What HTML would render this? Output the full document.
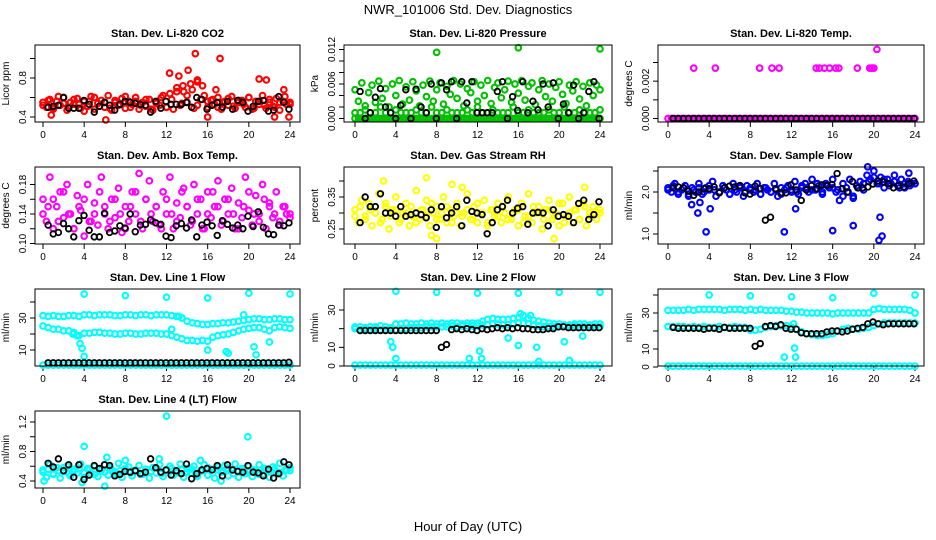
<!DOCTYPE html>
<html><head><meta charset="utf-8"><style>
html,body{margin:0;padding:0;background:#fff;}
svg{display:block;font-family:"Liberation Sans",Arial,sans-serif;}
</style></head><body>
<svg id="chart" width="936" height="540" viewBox="0 0 936 540">
<text x="468" y="14" text-anchor="middle" font-size="13">NWR_101006  Std. Dev. Diagnostics</text>
<text x="468" y="531" text-anchor="middle" font-size="13">Hour of Day (UTC)</text>
</svg>
<script>
// ---------- data ----------
const xTicks=[0,4,8,12,16,20,24];
const co2Main=[0.55,0.50,0.58,0.48,0.56,0.52,0.60,0.47,0.55,0.53,0.59,0.49,0.56,0.51,0.61,0.48,0.54,0.57,0.50,0.62,0.47,0.55,0.52,0.59,0.49,0.56,0.53,0.60,0.48,0.55,0.51,0.58,0.47,0.56,0.52,0.62,0.50,0.64,0.48,0.70,0.52,0.66,0.55,0.74,0.49,0.76,0.58,0.62,0.50,0.57,0.53,0.60,0.48,0.56,0.52,0.61,0.49,0.55,0.57,0.50,0.60,0.48,0.56,0.53,0.62,0.49,0.55,0.51,0.59,0.47,0.56,0.53,0.55];
const co2Alt=[0.52,0.57,0.49,0.61,0.54,0.50,0.58,0.53,0.46,0.56,0.60,0.51,0.55,0.49,0.57,0.53,0.61,0.50,0.56,0.52,0.58,0.48,0.54,0.60,0.50,0.58,0.66,0.54,0.62,0.68,0.52,0.72,0.56,0.58,0.50,0.55,0.59,0.51,0.57,0.53,0.60,0.49,0.56,0.52,0.58,0.50,0.55,0.61,0.53];
const co2OutT=[14.8,17.2,14.1,12.3,13.2,21.0,21.7,6.1,23.9,16.0,22.5,0.8,23.4,13.6,15.0,16.8];
const co2OutV=[1.05,1.00,0.88,0.85,0.82,0.79,0.78,0.37,0.40,0.40,0.40,0.42,0.68,0.72,0.78,0.68];
const co2Black=[0.50,0.51,0.52,0.60,0.49,0.49,0.49,0.57,0.53,0.45,0.51,0.55,0.52,0.47,0.53,0.56,0.55,0.54,0.53,0.52,0.45,0.56,0.49,0.56,0.53,0.53,0.53,0.55,0.50,0.60,0.58,0.48,0.52,0.55,0.50,0.56,0.48,0.57,0.55,0.46,0.51,0.56,0.57,0.46,0.47,0.61,0.55,0.48];
const presZero=[0,0,0,0,0,0,0,0,0,0,0,0,0,0,0,0,0,0,0,0,0,0,0,0,0,0,0,0,0,0,0,0,0,0,0,0,0,0,0,0,0,0,0,0,0,0,0,0,0,0,0,0,0,0,0,0,0,0,0,0,0,0,0,0,0,0,0,0,0,0,0,0,0];
const presLow=[0.0010,0.0010,0.0015,0.0010,0.0010,0.0020,0.0010,0.0010,0.0015,0.0010,0.0010,0.0010,0.0015,0.0010,0.0010,0.0020,0.0010,0.0010,0.0015,0.0010,0.0010,0.0010,0.0015,0.0010,0.0020,0.0010,0.0010,0.0015,0.0010,0.0010,0.0010,0.0020,0.0010,0.0010,0.0015,0.0010,0.0010,0.0010,0.0015,0.0010,0.0010,0.0020,0.0010,0.0010,0.0015,0.0010,0.0010,0.0010,0.0015];
const presScatter=[0.0050,0.0030,0.0062,0.0022,0.0045,0.0058,0.0028,0.0065,0.0035,0.0052,0.0020,0.0060,0.0040,0.0066,0.0025,0.0055,0.0032,0.0064,0.0048,0.0022,0.0058,0.0038,0.0065,0.0030,0.0050,0.0062,0.0025,0.0056,0.0042,0.0066,0.0035,0.0060,0.0022,0.0052,0.0045,0.0064,0.0030,0.0058,0.0040,0.0066,0.0026,0.0054,0.0062,0.0036,0.0050,0.0065,0.0028,0.0060,0.0044,0.0066,0.0032,0.0056,0.0062,0.0024,0.0050,0.0066,0.0038,0.0060,0.0030,0.0054,0.0064,0.0042,0.0026,0.0058,0.0048,0.0064,0.0034,0.0056,0.0022,0.0062,0.0040,0.0058,0.0050];
const presOutT=[8.0,16.0,24.0];
const presOutV=[0.0115,0.0123,0.0121];
const presBlack=[0.0047,0,0.0010,0.0037,0.0052,0.0020,0.0010,0,0.0023,0.0050,0,0.0051,0.0020,0.0010,0.0060,0,0.0062,0.0050,0.0064,0,0.0064,0.0027,0.0064,0.0010,0.0010,0.0010,0.0010,0.0047,0.0064,0,0.0038,0.0014,0.0064,0.0010,0.0030,0.0015,0.0060,0.0020,0.0062,0,0.0025,0.0010,0.0058,0,0.0010,0.0047,0.0064,0];
const tempZero=[0,0,0,0,0,0,0,0,0,0,0,0,0,0,0,0,0,0,0,0,0,0,0,0,0,0,0,0,0,0,0,0,0,0,0,0,0,0,0,0,0,0,0,0,0,0,0,0,0,0,0,0,0,0,0,0,0,0,0,0,0,0,0,0,0,0,0,0,0,0,0,0,0];
const tempOutT=[2.5,4.6,8.9,10.1,10.8,14.4,14.7,15.2,15.7,16.3,16.6,18.4,19.6,19.8,20.0,20.3];
const tempOutV=[0.0027,0.0027,0.0027,0.0027,0.0027,0.0027,0.0027,0.0027,0.0027,0.0027,0.0027,0.0027,0.0027,0.0027,0.0027,0.0037];
const tempBlack=[0,0,0,0,0,0,0,0,0,0,0,0,0,0,0,0,0,0,0,0,0,0,0,0,0,0,0,0,0,0,0,0,0,0,0,0,0,0,0,0,0,0,0,0,0,0,0,0];
const boxMain=[0.16,0.13,0.19,0.12,0.15,0.17,0.135,0.18,0.14,0.12,0.165,0.145,0.11,0.18,0.13,0.155,0.125,0.19,0.14,0.12,0.16,0.135,0.175,0.115,0.15,0.13,0.17,0.14,0.195,0.12,0.16,0.185,0.13,0.15,0.125,0.17,0.14,0.19,0.12,0.155,0.135,0.175,0.15,0.125,0.18,0.14,0.16,0.12,0.17,0.135,0.15,0.185,0.125,0.16,0.14,0.175,0.12,0.155,0.135,0.19,0.145,0.125,0.165,0.14,0.18,0.12,0.155,0.135,0.17,0.125,0.15,0.14,0.135];
const boxAlt=[0.14,0.15,0.16,0.13,0.17,0.14,0.12,0.15,0.16,0.13,0.14,0.17,0.15,0.13,0.16,0.14,0.12,0.15,0.17,0.13,0.16,0.14,0.15,0.12,0.16,0.14,0.13,0.17,0.15,0.13,0.16,0.12,0.14,0.17,0.15,0.13,0.16,0.14,0.12,0.15,0.17,0.14,0.13,0.16,0.15,0.14,0.13,0.15,0.14];
const boxBlack=[0.125,0.113,0.115,0.127,0.12,0.109,0.131,0.138,0.118,0.109,0.109,0.141,0.115,0.117,0.124,0.121,0.14,0.116,0.125,0.126,0.132,0.128,0.126,0.11,0.108,0.124,0.127,0.121,0.132,0.109,0.125,0.129,0.124,0.111,0.131,0.126,0.121,0.125,0.12,0.137,0.123,0.143,0.122,0.113,0.112,0.125,0.124,0.128];
const rhMain=[0.31,0.27,0.34,0.29,0.33,0.26,0.30,0.36,0.28,0.32,0.25,0.31,0.35,0.27,0.30,0.33,0.26,0.29,0.37,0.28,0.31,0.34,0.26,0.30,0.32,0.28,0.35,0.27,0.31,0.29,0.33,0.26,0.30,0.36,0.28,0.32,0.27,0.30,0.34,0.26,0.31,0.29,0.33,0.27,0.30,0.35,0.28,0.31,0.26,0.33,0.29,0.36,0.27,0.30,0.32,0.25,0.31,0.34,0.28,0.30,0.26,0.33,0.29,0.35,0.27,0.31,0.28,0.33,0.26,0.30,0.32,0.28,0.30];
const rhAlt=[0.29,0.32,0.28,0.31,0.30,0.27,0.33,0.29,0.31,0.28,0.30,0.32,0.27,0.31,0.29,0.33,0.28,0.30,0.32,0.27,0.30,0.29,0.31,0.28,0.33,0.30,0.27,0.31,0.29,0.32,0.28,0.30,0.31,0.27,0.29,0.32,0.30,0.28,0.31,0.29,0.33,0.27,0.30,0.31,0.28,0.32,0.29,0.30,0.31];
const rhOutT=[2.8,7.0,8.0,7.5,9.5,19.5,22.5,10.5];
const rhOutV=[0.40,0.41,0.22,0.23,0.39,0.22,0.38,0.38];
const rhBlack=[0.27,0.35,0.32,0.32,0.36,0.3,0.3,0.29,0.32,0.29,0.295,0.3,0.295,0.285,0.31,0.255,0.32,0.285,0.3,0.32,0.26,0.34,0.305,0.3,0.295,0.235,0.27,0.31,0.32,0.34,0.3,0.315,0.32,0.265,0.3,0.302,0.3,0.26,0.31,0.29,0.295,0.29,0.27,0.33,0.34,0.28,0.295,0.335];
const flowMain=[2.1,2.0,2.2,1.95,2.05,2.15,1.9,2.1,2.0,2.2,1.95,2.1,2.05,2.25,1.9,2.0,2.15,2.05,1.95,2.2,2.0,2.1,1.9,2.15,2.05,2.0,2.2,1.95,2.1,2.05,2.0,2.2,1.9,2.1,2.05,2.15,2.0,2.25,1.95,2.1,2.2,2.0,2.3,2.05,2.15,1.95,2.2,2.1,2.3,2.0,1.8,2.2,2.1,2.3,1.9,2.15,2.25,2.05,2.4,2.3,2.5,2.2,2.35,2.1,2.3,2.2,2.4,2.15,2.3,2.1,2.25,2.2,2.2];
const flowAlt=[2.05,2.15,2.0,2.1,1.95,2.05,2.1,2.0,2.15,2.05,2.0,2.1,1.95,2.05,2.15,2.0,2.1,2.05,1.95,2.1,2.0,2.05,1.95,2.1,2.05,2.0,2.15,2.1,2.05,2.2,2.0,2.15,2.1,2.05,1.9,2.0,1.85,2.1,2.2,2.25,2.35,2.2,2.3,2.15,2.25,2.1,2.2,2.15,2.2];
const flowOutT=[3.7,4.1,2.9,3.1,2.3,11.3,12.4,16.0,18.0,20.6,20.8,20.5,19.4,23.4];
const flowOutV=[1.05,1.6,1.5,1.75,1.7,1.05,1.6,1.08,1.2,1.4,0.95,0.85,2.6,2.45];
const flowBlack=[2.1,2.12,2.1,2.02,1.92,2.0,2.08,2.08,2.12,1.98,2.1,2.14,2.12,2.15,1.98,1.95,2.14,2.08,1.33,1.4,2.08,1.98,1.98,2.17,2.05,1.8,2.05,2.15,2.08,2.17,2.16,2.18,2.44,2.08,2.0,2.25,2.1,2.1,2.12,2.19,2.26,2.24,2.2,2.1,2.15,2.12,2.2,2.26];
const l1Upper=[31.5,31,31.5,31,31,31.5,31.5,31,32,32,31.5,32,32,32,31.5,31.5,32,32,31.5,32,32,31.5,32,32,32,31.5,31,30,28,27,26.5,26,26,26.5,26.5,27,27,27.5,28,28.5,29,29.5,29.5,29,29,29.5,29.5,29,29];
const l1Lower=[25,24,23,23,22,22,21,19,20.5,20.5,21,21,20.5,20.5,20,20,20.5,20.5,20,20,20.5,20.5,20.5,20,20,19,18,17,16,16,15.5,16,15.5,18,19,19.5,20,21,22,23,23.5,24,24,23,22,24,24.5,24,23.5];
const l1Bottom=[0.5,0.5,0.5,0.5,0.5,0.5,0.5,0.5,0.5,0.5,0.5,0.5,0.5,0.5,0.5,0.5,0.5,0.5,0.5,0.5,0.5,0.5,0.5,0.5,0.5,0.5,0.5,0.5,0.5,0.5,0.5,0.5,0.5,0.5,0.5,0.5,0.5,0.5,0.5,0.5,0.5,0.5,0.5,0.5,0.5,0.5,0.5,0.5,0.5];
const l1OutT=[4,8,12,16,20,24,3.3,3.6,3.8,4.0,16.0,17.8,18.0,20.5,20.7,22.0,19.5,13.2,12.5,2.9];
const l1OutV=[45,44,43,42.5,45.5,45,19,14,11,6,10,9,8,12,7,15,32,31,23,20];
const l1Black=[2,2,2,2,2,2,2,2,2,2,2,2,2,2,2,2,2,2,2,2,2,2,2,2,2,2,2,2,2,2,2,2,2,2,2,2,2,2,2,2,2,2,2,2,2,2,2,2.3];
const l2Band=[21,21,20.5,21,21,21.5,21,20.5,22.5,22.5,23,22.5,22.5,23,22.5,23,22.5,23,22.5,23,23,22.5,23,23,23,24,25,25.5,25,25,25,25.5,26,27,25.5,24.5,24,23.5,23,22.5,22.5,22,22,22.5,22.5,22.5,22,22.5,22.5];
const l2Band2=[20,19.5,20,19.5,20,19.5,19.5,19.5,19.5,20,20,20.5,20.5,20.5,21,21,21,21,21,21.5,21,21.5,21.5,21.5,21.5,22,22,22.5,22.5,22,22,22.5,23,23,22.5,22,21.5,21,21,21,21,21.5,21.5,21.5,21,21,21,21,21];
const l2Bottom=[0.5,0.5,0.5,0.5,0.5,0.5,0.5,0.5,0.5,0.5,0.5,0.5,0.5,0.5,0.5,0.5,0.5,0.5,0.5,0.5,0.5,0.5,0.5,0.5,0.5,0.5,0.5,0.5,0.5,0.5,0.5,0.5,0.5,0.5,0.5,0.5,0.5,0.5,0.5,0.5,0.5,0.5,0.5,0.5,0.5,0.5,0.5,0.5,0.5];
const l2OutT=[4,8,12,16,20,24,3.5,3.7,4.0,11.2,12.2,12.4,15,16,17.8,18,20.5,21,22.3,16.2,17.2];
const l2OutV=[40,39.5,39,39,39.5,39.5,13,10,4,4,8,4,15,11,10,2.5,13,3,16,28,27];
const l2Black=[19,19,19,19,19,19,19,19,19,19,19,19,19,19,19,19,10,11.5,19.5,20,19.5,20,19.5,19,20,19.5,20,20.5,20,20.5,20,20.5,20,20,19.5,19.5,19.5,20,20,21,21,20.5,20.5,20.5,20.5,20.5,20.5,20.5];
const l3Upper=[31.5,31.5,31.5,31.5,32,31.5,32,32,32,32,32,31.5,32,32,32,31.5,32,31.5,32,31.5,31.5,31.5,31.5,31,31,30.5,30.5,30,30,30,30,30,29.5,30,30,30,30,30,30,30,32,32.5,32,32,32,32,32,31.5,30];
const l3Lower=[22.5,22.5,22.5,22.5,22,22.5,22,22.5,22,22,22.5,22,22,22.5,22,22,20.5,20.5,21,22,22.5,23,23,23,22,21,19.5,18.5,18,17.5,17.5,18,18.5,20,21,21.5,21,21,21.5,22,23,24,24.5,24.5,24.5,24.5,24.5,24.5,24.5];
const l3Bottom=[0.5,0.5,0.5,0.5,0.5,0.5,0.5,0.5,0.5,0.5,0.5,0.5,0.5,0.5,0.5,0.5,0.5,0.5,0.5,0.5,0.5,0.5,0.5,0.5,0.5,0.5,0.5,0.5,0.5,0.5,0.5,0.5,0.5,0.5,0.5,0.5,0.5,0.5,0.5,0.5,0.5,0.5,0.5,0.5,0.5,0.5,0.5,0.5,0.5];
const l3OutT=[4,8,12,16,20,24,11.3,12.3,12.4,12.2];
const l3OutV=[40,39.5,39,38.5,41,40,5.5,10.5,5.5,24];
const l3Black=[22,21.5,21.5,21.5,21.5,21.5,21,21.5,21.5,21,22,21.5,21.5,21.5,21.5,21.5,11.5,13,22.5,23,22.5,23.5,21.5,21,21,19,18.5,18.5,18.5,18.5,19.5,20,20,19.5,20,21,21.5,22,24,25,24,23.5,24,24,24,24,24,24];
const l4Main=[0.55,0.45,0.62,0.50,0.58,0.44,0.53,0.60,0.47,0.56,0.51,0.63,0.45,0.57,0.50,0.60,0.46,0.54,0.62,0.48,0.56,0.52,0.64,0.45,0.55,0.59,0.47,0.53,0.61,0.49,0.56,0.44,0.58,0.51,0.62,0.46,0.55,0.60,0.48,0.53,0.63,0.45,0.57,0.51,0.60,0.46,0.54,0.62,0.48,0.56,0.44,0.59,0.52,0.61,0.47,0.55,0.63,0.45,0.57,0.50,0.60,0.46,0.54,0.62,0.49,0.56,0.45,0.59,0.52,0.64,0.47,0.55,0.58];
const l4Alt=[0.52,0.56,0.49,0.54,0.58,0.50,0.53,0.57,0.51,0.55,0.49,0.56,0.52,0.58,0.50,0.54,0.57,0.51,0.55,0.49,0.56,0.53,0.58,0.50,0.54,0.57,0.51,0.55,0.52,0.56,0.49,0.54,0.58,0.51,0.55,0.53,0.57,0.50,0.54,0.56,0.52,0.55,0.49,0.57,0.53,0.56,0.51,0.55,0.54];
const l4OutT=[12.0,19.9,4.0,6.0,6.2,3.8,0.1,11.3,8.0,15.3,17.3];
const l4OutV=[1.28,1.00,0.87,0.33,0.72,0.38,0.40,0.70,0.68,0.68,0.40];
const l4Black=[0.64,0.59,0.70,0.54,0.62,0.45,0.62,0.42,0.48,0.61,0.57,0.62,0.61,0.47,0.49,0.53,0.52,0.54,0.50,0.52,0.70,0.58,0.52,0.55,0.48,0.54,0.50,0.63,0.43,0.50,0.55,0.57,0.55,0.61,0.47,0.62,0.55,0.53,0.52,0.61,0.52,0.51,0.47,0.56,0.44,0.50,0.66,0.62];

// ---------- layout ----------
const NS="http://www.w3.org/2000/svg";
const svg=document.getElementById('chart');
const cols=[{L:35,R:300,x0:43,x1:290},{L:344,R:612,x0:355,x1:600},{L:658,R:924,x0:668,x1:915}];
const rowTops=[45,167,289,411];
const H=77;
function mk(tag,attrs,parent){const e=document.createElementNS(NS,tag);for(const k in attrs)e.setAttribute(k,attrs[k]);(parent||svg).appendChild(e);return e;}

const panels=[
 {title:"Stan. Dev. Li-820 CO2",ylab:"Licor ppm",col:0,row:0,ym:[0.4,117,0.8,78],ticks:[0.4,0.6,0.8,1.0],labs:[0.4,0.8],fmt:1,color:"#ff0000",
  series:[co2Main,co2Alt],outT:co2OutT,outV:co2OutV,black:co2Black},
 {title:"Stan. Dev. Li-820 Pressure",ylab:"kPa",col:1,row:0,ym:[0,118.5,0.012,49.5],ticks:[0,0.002,0.004,0.006,0.008,0.010,0.012],labs:[0,0.006,0.012],fmt:3,color:"#00c000",
  series:[presZero,presLow,presScatter],outT:presOutT,outV:presOutV,black:presBlack},
 {title:"Stan. Dev. Li-820 Temp.",ylab:"degrees C",col:2,row:0,ym:[0,118.5,0.003,62.5],ticks:[0,0.001,0.002,0.003],labs:[0,0.002],fmt:3,color:"#ff00ff",
  series:[tempZero],outT:tempOutT,outV:tempOutV,black:tempBlack},
 {title:"Stan. Dev. Amb. Box Temp.",ylab:"degrees C",col:0,row:1,ym:[0.10,243.5,0.18,184.5],ticks:[0.10,0.12,0.14,0.16,0.18],labs:[0.10,0.14,0.18],fmt:2,color:"#ff00ff",
  series:[boxMain,boxAlt],outT:[],outV:[],black:boxBlack},
 {title:"Stan. Dev. Gas Stream RH",ylab:"percent",col:1,row:1,ym:[0.25,229,0.35,197],ticks:[0.25,0.30,0.35,0.40],labs:[0.25,0.35],fmt:2,color:"#ffff00",
  series:[rhMain,rhAlt],outT:rhOutT,outV:rhOutV,black:rhBlack},
 {title:"Stan. Dev. Sample Flow",ylab:"ml/min",col:2,row:1,ym:[1.0,234,2.0,192],ticks:[1.0,1.5,2.0,2.5],labs:[1.0,2.0],fmt:1,color:"#0000ff",
  series:[flowMain,flowAlt],outT:flowOutT,outV:flowOutV,black:flowBlack},
 {title:"Stan. Dev. Line 1 Flow",ylab:"ml/min",col:0,row:2,ym:[10,350,30,318],ticks:[10,20,30,40],labs:[10,30],fmt:0,color:"#00ffff",
  series:[l1Upper,l1Lower,l1Bottom],outT:l1OutT,outV:l1OutV,black:l1Black},
 {title:"Stan. Dev. Line 2 Flow",ylab:"ml/min",col:1,row:2,ym:[0,366,30,310],ticks:[0,10,20,30],labs:[0,10,30],fmt:0,color:"#00ffff",
  series:[l2Band,l2Band2,l2Bottom],outT:l2OutT,outV:l2OutV,black:l2Black},
 {title:"Stan. Dev. Line 3 Flow",ylab:"ml/min",col:2,row:2,ym:[0,367,30,313],ticks:[0,10,20,30,40],labs:[0,10,30],fmt:0,color:"#00ffff",
  series:[l3Upper,l3Lower,l3Bottom],outT:l3OutT,outV:l3OutV,black:l3Black},
 {title:"Stan. Dev. Line 4 (LT) Flow",ylab:"ml/min",col:0,row:3,ym:[0.4,481,1.2,422],ticks:[0.4,0.6,0.8,1.0,1.2],labs:[0.4,0.8,1.2],fmt:1,color:"#00ffff",
  series:[l4Main,l4Alt],outT:l4OutT,outV:l4OutV,black:l4Black}
];

panels.forEach((p,pi)=>{
  const c=cols[p.col], top=rowTops[p.row], bot=top+H;
  const g=mk('g',{});
  
  
  const xs=h=>c.x0+h*(c.x1-c.x0)/24;
  const ys=v=>p.ym[1]+(v-p.ym[0])*(p.ym[3]-p.ym[1])/(p.ym[2]-p.ym[0]);
  const t=mk('text',{x:(c.L+c.R)/2,y:top-8,'text-anchor':'middle','font-size':11,'font-weight':'bold'},g);
  t.textContent=p.title;
  
  
  xTicks.forEach(v=>{
    mk('line',{x1:xs(v),x2:xs(v),y1:bot,y2:bot+5,stroke:'#000','stroke-width':1},g);
    const l=mk('text',{x:xs(v),y:bot+16,'text-anchor':'middle','font-size':10},g);
    l.textContent=v;
    
    
  });
  p.ticks.forEach(v=>{
    mk('line',{x1:c.L,x2:c.L-5,y1:ys(v),y2:ys(v),stroke:'#000','stroke-width':1},g);
  });
  p.labs.forEach(v=>{
    const yy=ys(v), xx=c.L-9;
    const l=mk('text',{x:xx,y:yy,'text-anchor':'middle','font-size':10,transform:`rotate(-90 ${xx} ${yy})`},g);
    l.textContent=v.toFixed(p.fmt);
    
    
  });
  const yl=mk('text',{x:c.L-26,y:(top+bot)/2,'text-anchor':'middle','font-size':10,transform:`rotate(-90 ${c.L-26} ${(top+bot)/2})`},g);
  yl.textContent=p.ylab;
  
  
  const dot=(h,v,col,sw)=>{
    const e=mk('circle',{cx:xs(h),cy:ys(v),r:2.8,fill:'none',stroke:col,'stroke-width':sw},g);
    
    
  };
  p.series.forEach(arr=>{arr.forEach((v,i)=>dot(24*i/(arr.length-1),v,p.color,2.1));});
  p.outT.forEach((h,i)=>dot(h,p.outV[i],p.color,2.1));
  p.black.forEach((v,i)=>dot(0.5+23.4*i/(p.black.length-1),v,'#000',1.8));
  const box=mk('rect',{x:c.L,y:top,width:c.R-c.L,height:H,fill:'none',stroke:'#000','stroke-width':1},g);
  
  
});
</script>
</body></html>
